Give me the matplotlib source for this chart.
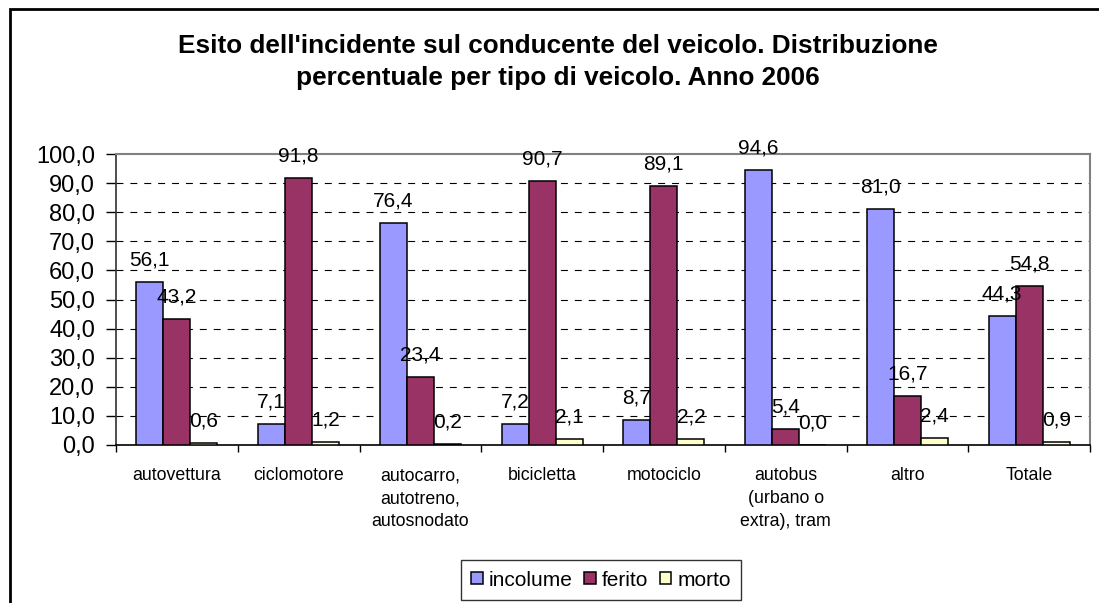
import numpy as np
import matplotlib
matplotlib.use("Agg")
import matplotlib.pyplot as plt
from matplotlib.patches import Rectangle, Patch

plt.rcParams['font.family'] = ['Liberation Sans', 'DejaVu Sans']
plt.rcParams['lines.scale_dashes'] = False

categories = ["autovettura", "ciclomotore", "autocarro,\nautotreno,\nautosnodato",
              "bicicletta", "motociclo", "autobus\n(urbano o\nextra), tram",
              "altro", "Totale"]
incolume = [56.1, 7.1, 76.4, 7.2, 8.7, 94.6, 81.0, 44.3]
ferito = [43.2, 91.8, 23.4, 90.7, 89.1, 5.4, 16.7, 54.8]
morto = [0.6, 1.2, 0.2, 2.1, 2.2, 0.0, 2.4, 0.9]
series_names = ["incolume", "ferito", "morto"]
colors = ["#9999FF", "#993366", "#FFFFCC"]

fig = plt.figure(figsize=(10.99, 6.03), dpi=100)
ax = fig.add_axes([116 / 1099, 1 - 445 / 603, (1090 - 116) / 1099, (445 - 154) / 603])

x = np.arange(len(categories)) + 0.5
w = 1 / 4.5
for k, (vals, col) in enumerate(zip([incolume, ferito, morto], colors)):
    pos = x + (k - 1) * w
    ax.bar(pos, vals, width=w, color=col, edgecolor="black", linewidth=1.1, zorder=3)
    for p, v in zip(pos, vals):
        ax.annotate(f"{v:.1f}".replace(".", ","), (p, v), xytext=(0, 9),
                    textcoords="offset points", ha="center", va="bottom",
                    fontsize=15, zorder=4)

ax.set_xlim(0, len(categories))
ax.set_ylim(0, 100)
ax.set_yticks(np.arange(0, 101, 10))
ax.set_yticklabels([f"{v:.1f}".replace(".", ",") for v in np.arange(0, 101, 10)],
                   fontsize=17)
ax.tick_params(axis="y", length=7, width=1, direction="out", pad=8)

ax.set_xticks(np.arange(0, len(categories) + 1), minor=False)
ax.set_xticklabels([])
ax.set_xticks(x, minor=True)
ax.set_xticklabels(categories, minor=True, fontsize=12.8, linespacing=1.45)
ax.tick_params(axis="x", which="major", length=5, width=1, direction="out")
ax.tick_params(axis="x", which="minor", length=0, pad=16)

for yv in np.arange(10, 100, 10):
    ax.axhline(yv, color="black", linewidth=0.8, linestyle=(0, (5, 5)), zorder=1)

for s in ["top", "right"]:
    ax.spines[s].set_color("#808080")
    ax.spines[s].set_linewidth(1.5)
ax.spines["left"].set_color("#303030")
ax.spines["bottom"].set_color("black")
ax.spines["left"].set_linewidth(1.2)
ax.spines["bottom"].set_linewidth(1.2)

fig.text(558 / 1099, 1 - 62 / 603,
         "Esito dell'incidente sul conducente del veicolo. Distribuzione\n"
         "percentuale per tipo di veicolo. Anno 2006",
         ha="center", va="center", fontsize=18.8, fontweight="bold", linespacing=1.42)

handles = [Patch(facecolor=c, edgecolor="black", linewidth=1.1) for c in colors]
leg = fig.legend(handles, series_names, loc="center", ncol=3,
                 bbox_to_anchor=(601 / 1099, 1 - 580 / 603), fontsize=15,
                 frameon=True, fancybox=False, handlelength=0.55, handleheight=0.55,
                 handletextpad=0.3, columnspacing=0.55, borderpad=0.5)
leg.get_frame().set_edgecolor("black")
leg.get_frame().set_linewidth(1.0)

fig.add_artist(Rectangle((9.5 / 1099, -0.2), 1.5, 1.2 - 9 / 603, transform=fig.transFigure,
                         fill=False, edgecolor="black", linewidth=2, clip_on=False))

fig.savefig("out.png", dpi=100)
